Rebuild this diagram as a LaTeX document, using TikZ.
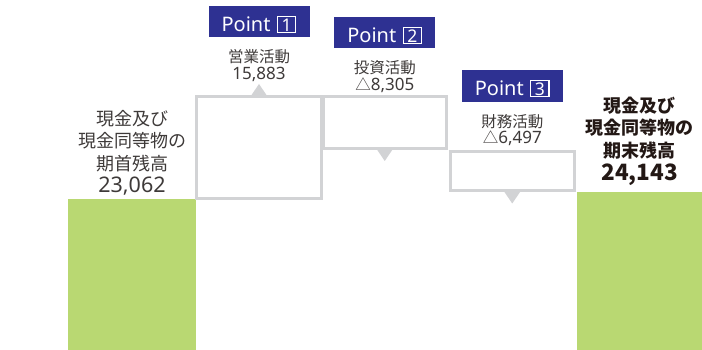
\documentclass[tikz,border=0pt]{standalone}
\usepackage{fontspec}
\setmainfont{Noto Sans CJK JP}
\newfontfamily\numfont{Noto Sans}
\usepackage{tikz}
\usetikzlibrary{positioning, calc}

\newcommand{\ptnum}[1]{{\setlength{\fboxsep}{0pt}\setlength{\fboxrule}{1.2pt}\fbox{\makebox[17pt]{\rule[-0.5pt]{0pt}{15pt}\fontsize{17.5}{17.5}\selectfont #1}}}}

\begin{document}
\begin{tikzpicture}[x=1pt, y=1pt, align=center,
        bar/.style={fill=bargreen, inner sep=0pt, outer sep=0pt, anchor=south west},
        stepbox/.style={draw=boxgray, line width=3pt, inner sep=0pt, outer sep=0pt, anchor=north west},
        tri/.style={fill=boxgray},
        pointtag/.style={fill=navy, text=white, inner sep=0pt, minimum width=101pt, minimum height=31.5pt, text height=19.9pt, text depth=0pt, font=\numfont\fontsize{20}{20}\selectfont},
        actlbl/.style={text=textgray, inner sep=0pt, font=\fontsize{15.5}{16.6}\selectfont},
        sumlbl/.style={text=textgray, inner sep=0pt, font=\fontsize{18}{22.4}\selectfont}]
        % Define colors
        \definecolor{navy}{RGB}{46,49,146}
        \definecolor{bargreen}{RGB}{185,216,114}
        \definecolor{boxgray}{RGB}{210,211,213}
        \definecolor{textgray}{RGB}{62,58,57}
        \definecolor{textdark}{RGB}{35,24,21}

        \useasboundingbox (0,0) rectangle (702,350);

        % Bars
        \node[bar, minimum width=128pt, minimum height=151pt] (opening) at (68,0) {};
        \node[bar, minimum width=125pt, minimum height=158pt] (closing) at (577,0) {};

        % Boxes
        \node[stepbox, minimum width=125pt, minimum height=102pt] (op) at (196.5,253.5) {};
        \node[stepbox, minimum width=123.5pt, minimum height=52pt] (inv) at (323,253.5) {};
        \node[stepbox, minimum width=123.5pt, minimum height=39pt] (fin) at (450.5,198) {};

        % Triangles
        \foreach \b/\s/\d in {op/north/1, inv/south/-1, fin/south/-1} {
            \coordinate (\b-tip) at ($(\b.\s)+(0,12.5*\d)$);
            \fill[tri] ($(\b.\s)+(-8.5,0)$) -- ($(\b.\s)+(8.5,0)$) -- (\b-tip) -- cycle;
        }

        % Labels
        \node[actlbl, above=2.5pt of op-tip] (oplbl) {営業活動\\{\numfont\fontsize{17}{16.6}\selectfont 15,883}};
        \node[actlbl, above=4pt of inv.north] (invlbl) {投資活動\\△{\numfont\fontsize{17}{16.6}\selectfont 8,305}};
        \node[actlbl, above=6pt of fin.north] (finlbl) {財務活動\\△{\numfont\fontsize{17}{16.6}\selectfont 6,497}};

        \node[sumlbl, above=3.5pt of opening] (openlbl) {現金及び\\現金同等物の\\期首残高\\{\numfont\fontsize{21.5}{22.4}\selectfont 23,062}};
        \node[sumlbl, text=textdark, font=\bfseries\fontsize{18}{22.7}\selectfont, above=6.3pt of closing] (closelbl) {現金及び\\現金同等物の\\期末残高\\{\fontsize{22.5}{22.7}\selectfont 24,143}};

        % Point tags
        \node[pointtag, above=12pt of oplbl] (pt1) {Point\hspace{6.5pt}\ptnum{1}};
        \node[pointtag, above=12pt of invlbl] (pt2) {Point\hspace{6.5pt}\ptnum{2}};
        \node[pointtag, above=12pt of finlbl] (pt3) {Point\hspace{6.5pt}\ptnum{3}};
    \end{tikzpicture}
\end{document}
